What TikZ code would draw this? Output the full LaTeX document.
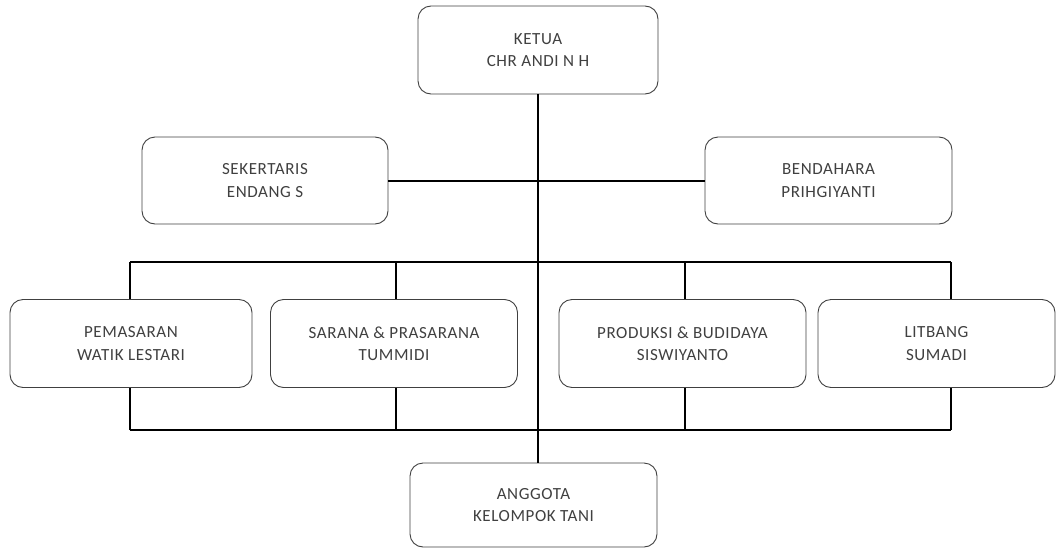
\documentclass[tikz,border=0pt]{standalone}
\usepackage{fontspec}
\setmainfont{Carlito}[LetterSpace=3.5]
\begin{document}
\begin{tikzpicture}[x=1pt,y=-1pt,
  box/.style={draw=black!75, line width=0.9pt, rounded corners=13pt, fill=white,
    text=black!75, align=center, inner sep=0pt,
    font=\fontsize{17}{22.5}\selectfont},
  link/.style={draw=black, line width=2pt}]
\useasboundingbox (0,0) rectangle (1057,549);
% nodes
\node[box, minimum width=240pt, minimum height=88pt] (ket) at (538,50) {KETUA\\CHR ANDI N H};
\node[box, minimum width=246pt, minimum height=87pt] (sek) at (265,180.5) {SEKERTARIS\\ENDANG S};
\node[box, minimum width=247pt, minimum height=87pt] (ben) at (828.5,180.5) {BENDAHARA\\PRIHGIYANTI};
\node[box, minimum width=242pt, minimum height=88pt] (pem) at (131,343.5) {PEMASARAN\\WATIK LESTARI};
\node[box, minimum width=247pt, minimum height=88pt] (sar) at (394,343.5) {SARANA \& PRASARANA\\TUMMIDI};
\node[box, minimum width=247pt, minimum height=88pt] (pro) at (682.5,343.5) {PRODUKSI \& BUDIDAYA\\SISWIYANTO};
\node[box, minimum width=237pt, minimum height=88pt] (lit) at (936.5,343.5) {LITBANG\\SUMADI};
\node[box, minimum width=247pt, minimum height=84pt] (ang) at (533.5,505) {ANGGOTA\\KELOMPOK TANI};
% bus coordinates
\coordinate (tl) at (130,262);
\coordinate (t2) at (396,262);
\coordinate (t3) at (685,262);
\coordinate (tr) at (951,262);
\coordinate (bl) at (130,430);
\coordinate (b2) at (396,430);
\coordinate (b3) at (685,430);
\coordinate (br) at (951,430);
% connectors
\draw[link] (ket.south) -- (ang.north -| ket.south);
\draw[link] (sek.east) -- (ben.west);
\draw[link] (tl) -- (tr);
\draw[link] (bl) -- (br);
\draw[link] (tl) -- (tl |- pem.north);
\draw[link] (t2) -- (t2 |- sar.north);
\draw[link] (t3) -- (t3 |- pro.north);
\draw[link] (tr) -- (tr |- lit.north);
\draw[link] (bl) -- (bl |- pem.south);
\draw[link] (b2) -- (b2 |- sar.south);
\draw[link] (b3) -- (b3 |- pro.south);
\draw[link] (br) -- (br |- lit.south);
\end{tikzpicture}
\end{document}
